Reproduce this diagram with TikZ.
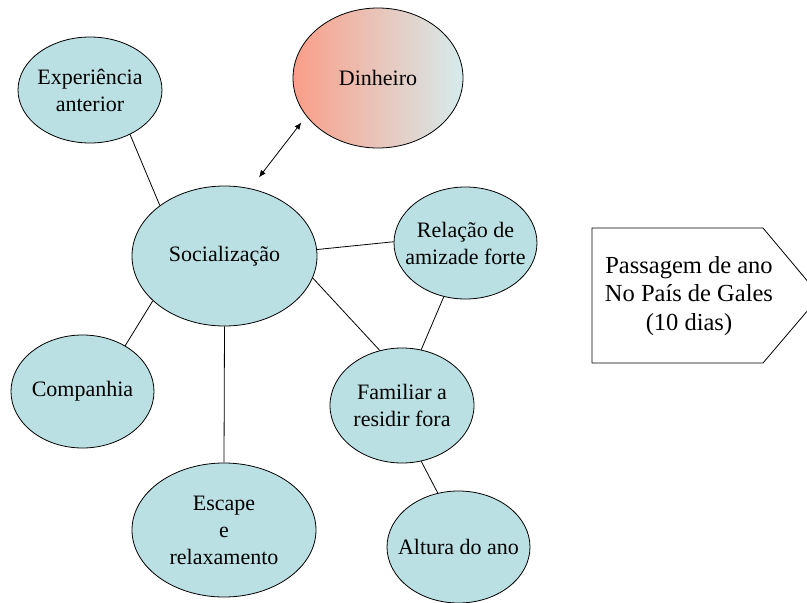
\documentclass[tikz,border=0pt]{standalone}
\usepackage{fontspec}
\setmainfont{Liberation Serif}
\usetikzlibrary{arrows.meta, shapes.geometric}
\definecolor{cbubble}{HTML}{BBE0E3}
\definecolor{csalmon}{HTML}{FA9E88}
\definecolor{cmist}{HTML}{D6EBEC}
\tikzset{
  every picture/.style={line width=0.8pt},
  bubble/.style 2 args={ellipse, draw, fill=cbubble, align=center, inner xsep=-20pt, inner ysep=0pt,
    minimum width=#1, minimum height=#2, font=\fontsize{22}{27}\selectfont},
  link/.style={draw, line width=0.8pt},
  twoway/.style={{Latex[length=7pt, width=6pt]}-{Latex[length=7pt, width=6pt]}, line width=0.8pt},
  tag/.style={font=\fontsize{24.5}{28.5}\selectfont, align=center},
}

\begin{document}
\begin{tikzpicture}[x=1pt, y=-1pt]
  \useasboundingbox (0,0) rectangle (807,603);
  \clip (0,0) rectangle (807,603);
  % bubbles
  \node[bubble={144pt}{106pt}] (exp) at (90,90) {Experiência\\anterior};
  \node[bubble={170pt}{140pt}, left color=csalmon, right color=cmist] (din) at (378,78) {Dinheiro};
  \node[bubble={185pt}{140pt}] (soc) at (224.5,256) {Socialização};
  \node[bubble={143pt}{112pt}] (rel) at (465.5,243) {Relação de\\amizade forte};
  \node[bubble={143pt}{113pt}] (comp) at (82.5,391.5) {Companhia};
  \node[bubble={144pt}{115pt}] (fam) at (402,405.5) {Familiar a\\residir fora};
  \node[bubble={184pt}{134pt}] (esc) at (224,530) {Escape\\e\\relaxamento};
  \node[bubble={143pt}{112pt}] (alt) at (458.5,547) {Altura do ano};
  % links
  \draw[link] (exp.-48) -- (soc.142);
  \draw[twoway, shorten <=14pt, shorten >=8pt] (soc.69) -- (din.208);
  \draw[link] (soc.4) -- (rel.179);
  \draw[link] (soc.-14) -- (fam.112);
  \draw[link] (rel.248) -- (fam.71);
  \draw[link] (soc.212) -- (comp.47);
  \draw[link] (soc.south) -- (esc.north);
  \draw[link] (fam.-71) -- (alt.111);
  % trip tag
  \draw (592,228) -- (763,228) -- (820,296) -- (763,363) -- (592,363) -- cycle;
  \node[tag] (trip) at (689,296) {Passagem de ano\\No País de Gales\\(10 dias)};
\end{tikzpicture}
\end{document}
